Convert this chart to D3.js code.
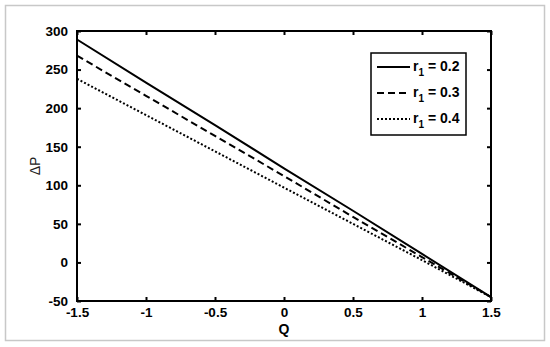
<!DOCTYPE html>
<html>
<head>
<meta charset="utf-8">
<script src="https://cdn.jsdelivr.net/npm/d3@7"></script>
<style>
body { margin: 0; background: #fff; }
text { font-family: "Liberation Sans", Arial, sans-serif; font-weight: bold; }
</style>
</head>
<body>
<svg id="chart" width="550" height="347"></svg>
<script>
// values
var q = [-1.5, -1, -0.5, 0, 0.5, 1, 1.5];
var dp_r02 = [289, 233, 178, 122, 67, 11, -45];
var dp_r03 = [268, 216, 164, 112, 59, 7, -45];
var dp_r04 = [238, 191, 144, 97, 50, 3, -45];
var labels = ["0.2", "0.3", "0.4"];
var xTicks = [-1.5, -1, -0.5, 0, 0.5, 1, 1.5];
var yTicks = [-50, 0, 50, 100, 150, 200, 250, 300];

var svg = d3.select("#chart");

// outer grey frame
svg.append("rect")
    .attr("x", 5.5).attr("y", 5.5)
    .attr("width", 539).attr("height", 335)
    .attr("fill", "none").attr("stroke", "#c8c8c8").attr("stroke-width", 1.5);

var pl = 77, pr = 491, pt = 31, pb = 301;

var x = d3.scaleLinear().domain([-1.5, 1.5]).range([pl, pr]);
var y = d3.scaleLinear().domain([-50, 300]).range([pb, pt]);

function fmt(d) { return String(d); }

// axes with inward ticks
var gx = svg.append("g").attr("transform", "translate(0," + pb + ")")
    .call(d3.axisBottom(x).tickValues(xTicks).tickSize(-4).tickPadding(9).tickFormat(fmt));
var gxt = svg.append("g").attr("transform", "translate(0," + pt + ")")
    .call(d3.axisTop(x).tickValues(xTicks).tickSize(-4).tickFormat(""));
var gy = svg.append("g").attr("transform", "translate(" + pl + ",0)")
    .call(d3.axisLeft(y).tickValues(yTicks).tickSize(-4).tickPadding(9).tickFormat(fmt));
var gyr = svg.append("g").attr("transform", "translate(" + pr + ",0)")
    .call(d3.axisRight(y).tickValues(yTicks).tickSize(-4).tickFormat(""));

[gx, gxt, gy, gyr].forEach(function(g) {
    g.select(".domain").remove();
    g.selectAll(".tick line").attr("stroke", "#000").attr("stroke-width", 2);
    g.selectAll("text").attr("font-size", 13.5).attr("fill", "#000")
        .attr("font-family", "'Liberation Sans', Arial, sans-serif");
});
gx.selectAll("text").attr("dy", "0.55em");

// plot box
svg.append("rect")
    .attr("x", pl).attr("y", pt)
    .attr("width", pr - pl).attr("height", pb - pt)
    .attr("fill", "none").attr("stroke", "#000").attr("stroke-width", 2);

// axis titles
svg.append("text").attr("x", (pl + pr) / 2).attr("y", 334)
    .attr("text-anchor", "middle").attr("font-size", 14).text("Q");
svg.append("text")
    .attr("transform", "translate(40," + ((pt + pb) / 2) + ") rotate(-90)")
    .attr("text-anchor", "middle").attr("font-size", 14)
    .style("font-weight", "normal").attr("fill", "#222").text("ΔP");

// curves
var series = [dp_r02, dp_r03, dp_r04];
var dashes = [null, "7,4", "2,2"];
var line = d3.line().x(function(d, i) { return x(q[i]); }).y(function(d) { return y(d); });

series.forEach(function(s, k) {
    svg.append("path")
        .attr("d", line(s))
        .attr("fill", "none")
        .attr("stroke", "#000")
        .attr("stroke-width", 2)
        .attr("stroke-dasharray", dashes[k]);
});

// legend
var lg = svg.append("g");
lg.append("rect")
    .attr("x", 371).attr("y", 53).attr("width", 95).attr("height", 82)
    .attr("fill", "#fff").attr("stroke", "#000").attr("stroke-width", 1.5);

labels.forEach(function(lab, k) {
    var cy = 67 + k * 26;
    lg.append("line")
        .attr("x1", 377).attr("x2", 410).attr("y1", cy).attr("y2", cy)
        .attr("stroke", "#000").attr("stroke-width", 2)
        .attr("stroke-dasharray", dashes[k]);
    var t = lg.append("text").attr("x", 413).attr("y", cy + 4).attr("font-size", 14);
    t.append("tspan").text("r");
    t.append("tspan").attr("font-size", 10).attr("dy", 5).text("1");
    t.append("tspan").attr("dy", -5).text(" = " + lab);
});
</script>
</body>
</html>
